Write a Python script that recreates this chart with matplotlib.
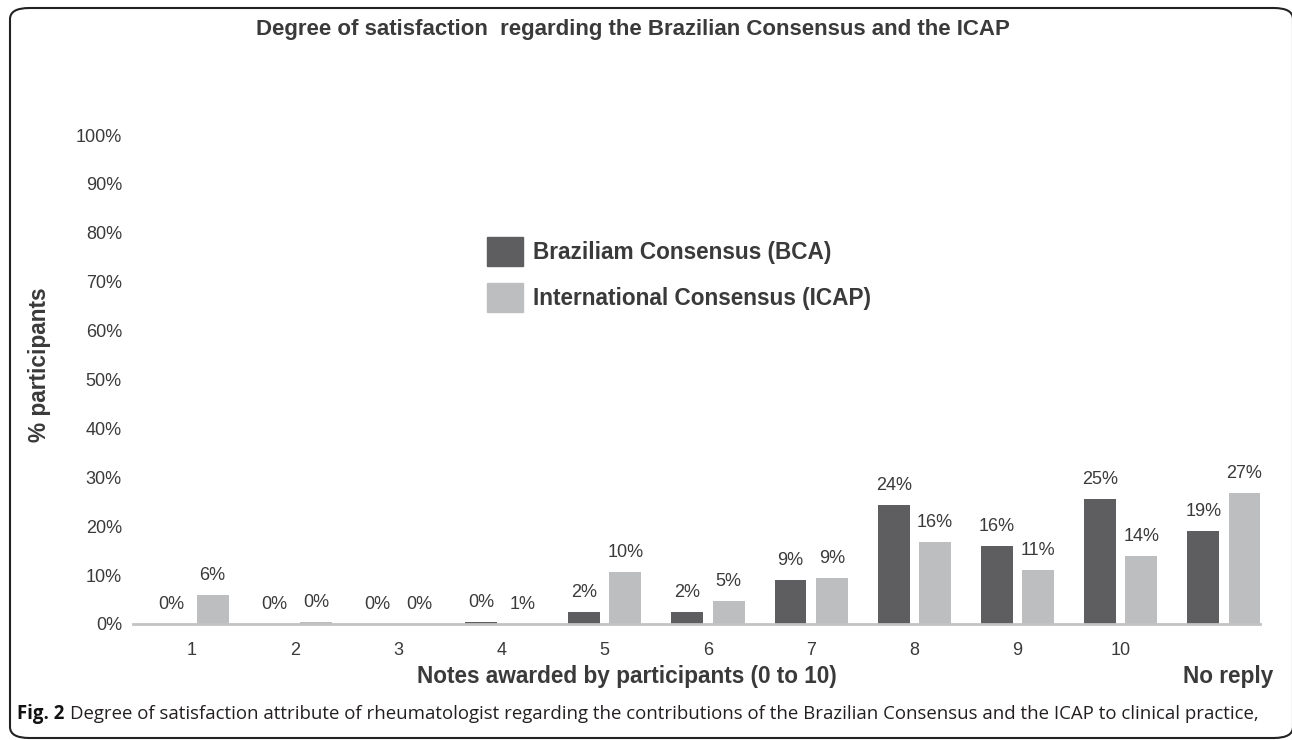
import matplotlib.pyplot as plt
from matplotlib.patches import Patch, FancyBboxPatch

# data
groups = ["1", "2", "3", "4", "5", "6", "7", "8", "9", "10", "No reply"]
bca_values = [0, 0, 0, 0.5, 2.5, 2.5, 9.0, 24.4, 16.0, 25.6, 19.0]
icap_values = [6.0, 0.5, 0, 0, 10.6, 4.8, 9.5, 16.7, 11.0, 13.9, 26.8]
bca_labels = ["0%", "0%", "0%", "0%", "2%", "2%", "9%", "24%", "16%", "25%", "19%"]
icap_labels = ["6%", "0%", "0%", "1%", "10%", "5%", "9%", "16%", "11%", "14%", "27%"]
yticks = [0, 10, 20, 30, 40, 50, 60, 70, 80, 90, 100]

W, H = 1292, 740
BCA_COLOR = "#5e5e60"
ICAP_COLOR = "#bdbec0"
TXT = "#3a3a3a"
SANS = "Liberation Sans"
CAPTION = ("Degree of satisfaction attribute of rheumatologist regarding the contributions "
           "of the Brazilian Consensus and the ICAP to clinical practice,")

fig = plt.figure(figsize=(W / 100, H / 100), dpi=100)
ax = fig.add_axes([133 / W, (H - 624) / H, (1260 - 133) / W, (624 - 135) / H])

x = list(range(len(groups)))
bw = 0.31
off = 0.2
ax.bar([i - off for i in x], bca_values, width=bw, color=BCA_COLOR, zorder=2)
ax.bar([i + off for i in x], icap_values, width=bw, color=ICAP_COLOR, zorder=2)

for i in x:
    ax.annotate(bca_labels[i], (i - off, bca_values[i]), xytext=(0, 14),
                textcoords="offset points", ha="center", va="center",
                fontsize=13, color=TXT, family=SANS)
    ax.annotate(icap_labels[i], (i + off, icap_values[i]), xytext=(0, 14),
                textcoords="offset points", ha="center", va="center",
                fontsize=13, color=TXT, family=SANS)

ax.set_xlim(-0.572, 10.35)
ax.set_ylim(0, 100)
ax.set_yticks(yticks)
ax.set_yticklabels([f"{v}%" for v in yticks], family=SANS, fontsize=13, color=TXT)
ax.set_xticks(x[:-1])
ax.set_xticklabels(groups[:-1], family=SANS, fontsize=13, color=TXT)
ax.tick_params(axis="y", length=0, pad=8)
ax.tick_params(axis="x", length=0, pad=13)
for s in ["top", "right", "left"]:
    ax.spines[s].set_visible(False)
ax.spines["bottom"].set_color("#c3c3c3")
ax.spines["bottom"].set_linewidth(2)
ax.spines["bottom"].set_zorder(3)

# legend
handles = [Patch(color=BCA_COLOR), Patch(color=ICAP_COLOR)]
fig.legend(handles, ["Braziliam Consensus (BCA)", "International Consensus (ICAP)"],
           loc="upper left", bbox_to_anchor=(487 / W, 1 - 237 / H),
           frameon=False, borderpad=0, borderaxespad=0,
           handlelength=1.58, handleheight=1.62, handletextpad=0.45,
           labelspacing=0.72, labelcolor=TXT,
           prop={"family": SANS, "weight": "bold", "size": 16.3})

# titles
fig.text(633 / W, 1 - 30 / H, "Degree of satisfaction  regarding the Brazilian Consensus and the ICAP",
         ha="center", va="center", fontsize=16, weight="bold", color=TXT, family=SANS)
fig.text(40 / W, 1 - 365 / H, "% participants", rotation=90, ha="center", va="center",
         fontsize=16.3, weight="bold", color=TXT, family=SANS)
fig.text(627 / W, 1 - 676 / H, "Notes awarded by participants (0 to 10)",
         ha="center", va="center", fontsize=16.3, weight="bold", color=TXT, family=SANS)
fig.text(1228 / W, 1 - 676 / H, "No reply",
         ha="center", va="center", fontsize=16.3, weight="bold", color=TXT, family=SANS)

# caption, sized so it runs from x=17 to about x=1262
r = fig.canvas.get_renderer()
cap_size = 15
t1 = fig.text(17 / W, 1 - 714 / H, "Fig. 2", ha="left", va="center",
              fontsize=cap_size, weight="bold", color="#111111", family="Open Sans")
t2 = fig.text(0, 1 - 714 / H, CAPTION, ha="left", va="center",
              fontsize=cap_size, color="#231f20", family="Open Sans")
total = t1.get_window_extent(r).width + 6 + t2.get_window_extent(r).width
cap_size = cap_size * (1262 - 17) / total
t1.set_fontsize(cap_size)
t2.set_fontsize(cap_size)
bb = t1.get_window_extent(r)
t2.set_x((bb.x1 + 6 * cap_size / 15) / W)

# rounded frame
frame = FancyBboxPatch((10 / W, (H - 738) / H), (1293 - 10) / W, (738 - 8) / H,
                       boxstyle="round,pad=0,rounding_size=0.015",
                       transform=fig.transFigure, fill=False,
                       edgecolor="#222222", linewidth=1.5)
fig.patches.append(frame)

fig.savefig("out.png", dpi=100)
